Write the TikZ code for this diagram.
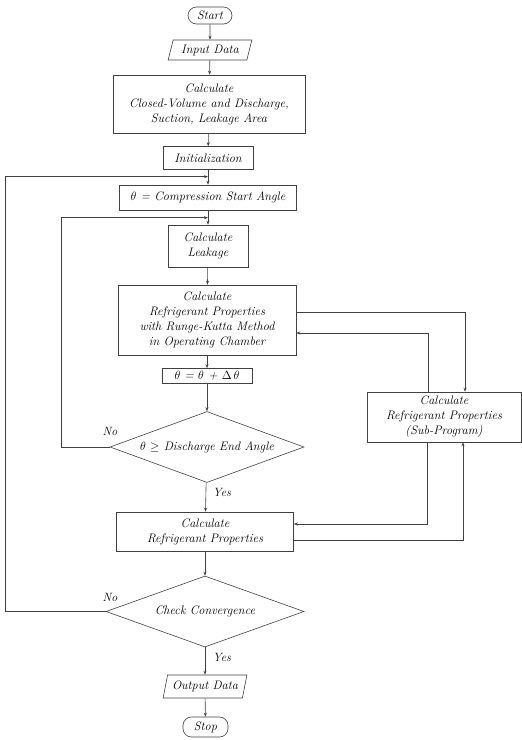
\documentclass[tikz,border=0pt]{standalone}
\usetikzlibrary{shapes.geometric,arrows.meta}
\begin{document}
\begin{tikzpicture}[x=1pt,y=-1pt,
  every node/.style={font=\fontsize{12.3}{15}\selectfont\itshape, text=black},
  box/.style={draw=black!75, line width=0.6pt, rectangle, align=center, inner sep=0pt},
  term/.style={box, rounded corners=8.5pt},
  io/.style={draw=black!75, line width=0.6pt, trapezium, trapezium left angle=70, trapezium right angle=110,
    trapezium stretches=true, align=center, inner sep=0pt},
  dec/.style={draw=black!75, line width=0.6pt, diamond, shape aspect=3, align=center, inner sep=0pt},
  arr/.style={draw=black!75, line width=0.6pt, -{Stealth[length=4pt,width=3pt]}},
  lbl/.style={font=\fontsize{12}{13}\selectfont\itshape}
]
\useasboundingbox (0,0) rectangle (522,740);

\node[term, minimum width=44pt, minimum height=17pt] (start) at (210,15.5) {Start};
\node[io, minimum width=84pt, minimum height=20pt] (input) at (210,50) {Input Data};
\node[box, minimum width=192pt, minimum height=58pt] (calc1) at (209,104)
  {Calculate\\Closed-Volume and Discharge,\\Suction, Leakage Area};
\node[box, minimum width=90pt, minimum height=23pt] (init) at (208,158) {Initialization};
\node[box, minimum width=177pt, minimum height=25pt] (theta0) at (208,197.5)
  {$\theta$ = Compression Start Angle};
\node[box, minimum width=80pt, minimum height=42pt] (leak) at (208,246) {Calculate\\Leakage};
\node[box, minimum width=178pt, minimum height=70pt] (rk) at (207,320)
  {Calculate\\Refrigerant Properties\\with Runge-Kutta Method\\in Operating Chamber};
\node[box, minimum width=90pt, minimum height=15pt] (dtheta) at (207,376)
  {$\theta$ = $\theta$ + $\Delta\,\theta$};
\node[dec, minimum width=194pt, minimum height=71pt] (d1) at (207,447)
  {$\theta$ $\geq$ Discharge End Angle};
\node[box, minimum width=177pt, minimum height=39pt] (calc2) at (205,531.5)
  {Calculate\\Refrigerant Properties};
\node[dec, minimum width=198pt, minimum height=71pt] (cc) at (205,611.5) {Check Convergence};
\node[io, minimum width=84pt, minimum height=23pt] (out) at (205,686.5) {Output Data};
\node[term, minimum width=45pt, minimum height=20pt] (stop) at (205.5,727) {Stop};
\node[box, minimum width=154pt, minimum height=50pt] (sub) at (444,417)
  {Calculate\\Refrigerant Properties\\(Sub-Program)};

\node[lbl] (no1) at (110,431) {No};
\node[lbl] (no2) at (110,597) {No};
\node[lbl] (yes1) at (222,492) {Yes};
\node[lbl] (yes2) at (222,657) {Yes};

\draw[arr] (start) -- (input);
\draw[arr] (input) -- (calc1);
\draw[arr] (calc1) -- (init);
\draw[arr] (init) -- (theta0);
\path (theta0.north) ++(0,-8) coordinate (j1);
\draw[arr] (cc.west) -- ++(-100,0) |- (j1);
\draw[arr] (theta0) -- (leak);
\path (leak.north) ++(0,-7) coordinate (j2);
\draw[arr] (d1.west) -- ++(-48,0) |- (j2);
\draw[arr] (leak) -- (rk);
\draw[arr] (rk) -- (dtheta);
\draw[arr] (dtheta) -- (d1);
\draw[arr] (d1) -- (calc2);
\draw[arr] (calc2) -- (cc);
\draw[arr] (cc) -- (out);
\draw[arr] (out) -- (stop);

\draw[arr] ([yshift=8pt]rk.east) -| ([xshift=21pt]sub.north);
\draw[arr] ([xshift=-16pt]sub.north) |- ([yshift=-13pt]rk.east);
\draw[arr] ([xshift=-17pt]sub.south) |- ([yshift=7.5pt]calc2.east);
\draw[arr] ([yshift=-8.5pt]calc2.east) -| ([xshift=19pt]sub.south);
\end{tikzpicture}
\end{document}
